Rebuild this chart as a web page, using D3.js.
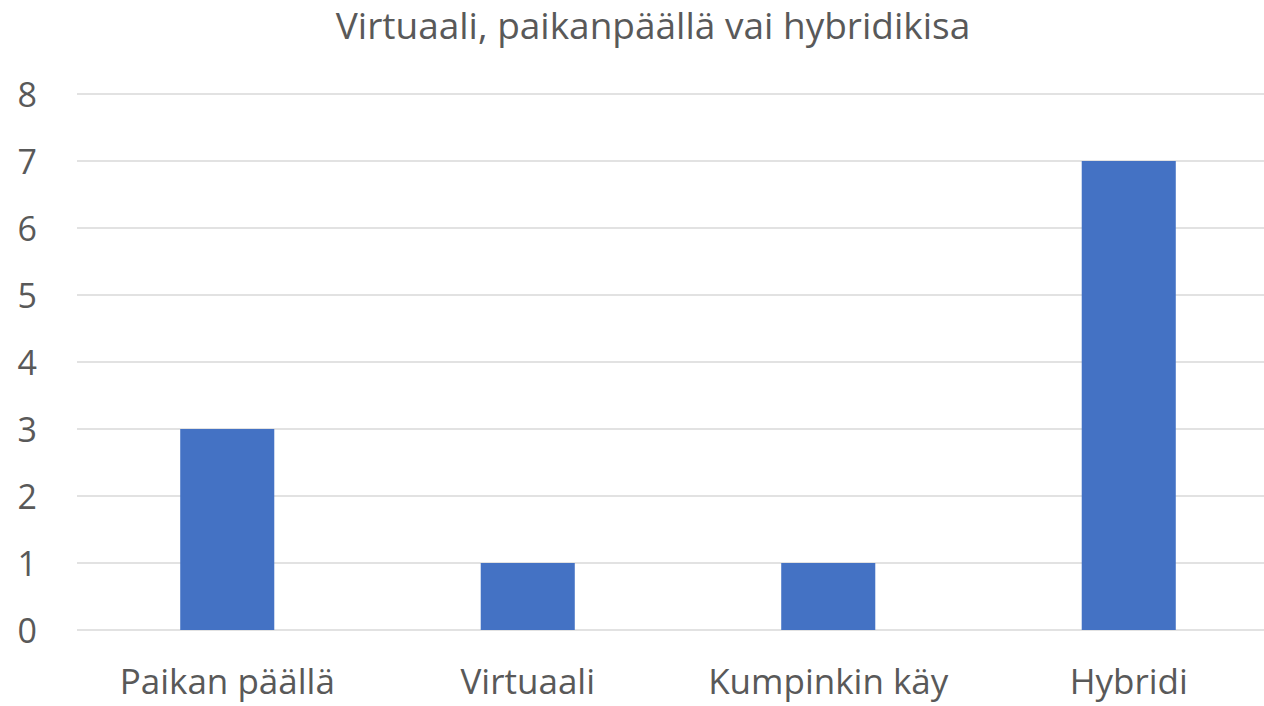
<!DOCTYPE html>
<html>
<head>
<meta charset="utf-8">
<script src="https://cdn.jsdelivr.net/npm/d3@7"></script>
<style>
  body { margin: 0; background: #fff; overflow: hidden; }
  svg { display: block; font-family: "Open Sans", sans-serif; }
</style>
</head>
<body>
<div id="chart"></div>
<script>
// Chart data
const categories = ["Paikan päällä", "Virtuaali", "Kumpinkin käy", "Hybridi"];
const values = [3, 1, 1, 7];
const yTicks = [0, 1, 2, 3, 4, 5, 6, 7, 8];
const title = "Virtuaali, paikanpäällä vai hybridikisa";

const width = 1264, height = 706;
const plot = { left: 77, right: 1279, top: 94, bottom: 630 };

const svg = d3.select("#chart")
    .append("svg")
    .attr("width", width)
    .attr("height", height);

const x = d3.scaleBand()
    .domain(categories)
    .range([plot.left, plot.right])
    .paddingInner(0.687)
    .paddingOuter(0.3435);

const y = d3.scaleLinear()
    .domain([0, 8])
    .range([plot.bottom, plot.top]);

// Gridlines
svg.append("g")
    .selectAll("line")
    .data(yTicks)
    .enter()
    .append("line")
    .attr("x1", plot.left)
    .attr("x2", plot.right)
    .attr("y1", d => y(d))
    .attr("y2", d => y(d))
    .attr("stroke", "#d9d9d9")
    .attr("stroke-width", 1.5);

// Bars
svg.append("g")
    .selectAll("rect")
    .data(values)
    .enter()
    .append("rect")
    .attr("x", (d, i) => x(categories[i]))
    .attr("width", x.bandwidth())
    .attr("y", d => y(d))
    .attr("height", d => y(0) - y(d))
    .attr("fill", "#4472c4");

// Y axis labels
const yAxis = svg.append("g")
    .attr("transform", `translate(${plot.left},0)`)
    .call(d3.axisLeft(y).tickValues(yTicks).tickSize(0).tickPadding(40));
yAxis.select(".domain").remove();
yAxis.selectAll(".tick text")
    .attr("fill", "#595959")
    .attr("dy", "0.36em")
    .style("font-size", "34px")
    .style("font-family", "Open Sans, sans-serif");

// X axis labels (kept clear of the bottom edge)
const xAxis = svg.append("g")
    .attr("transform", `translate(0,${plot.bottom})`)
    .call(d3.axisBottom(x).tickSize(0));
xAxis.select(".domain").remove();
xAxis.selectAll(".tick text")
    .attr("fill", "#595959")
    .attr("y", 64)
    .attr("dy", "0")
    .style("font-size", "35px")
    .style("font-family", "Open Sans, sans-serif");

// Title
svg.append("text")
    .attr("x", 653)
    .attr("y", 39)
    .attr("text-anchor", "middle")
    .attr("fill", "#595959")
    .style("font-size", "37px")
    .text(title);
</script>
</body>
</html>
